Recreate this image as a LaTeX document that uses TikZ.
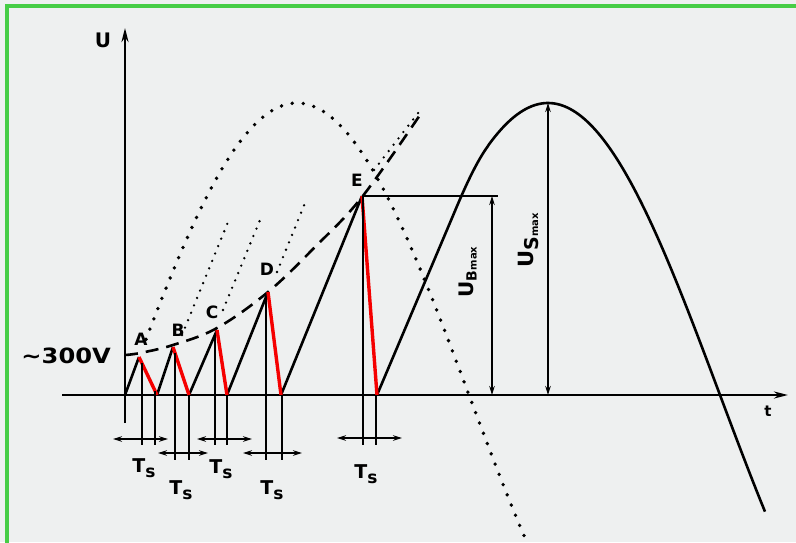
\documentclass[tikz,border=0pt]{standalone}
\usepackage{fontspec}
\setmainfont{DejaVu Sans}
\usetikzlibrary{arrows.meta}
\definecolor{bgc}{RGB}{238,240,240}
\definecolor{framec}{RGB}{70,205,70}
\definecolor{dropc}{RGB}{245,0,0}
\tikzset{
  axisline/.style={line width=2.4pt, black},
  curve/.style={line width=2.6pt, black, line join=round},
  dropline/.style={line width=3.4pt, dropc},
  bigdots/.style={line width=3.8pt, line cap=round, dash pattern=on 0pt off 11pt},
  smalldots/.style={line width=2.6pt, line cap=round, dash pattern=on 0pt off 8pt},
  dashcurve/.style={line width=2.6pt, dash pattern=on 13pt off 8pt},
  dimline/.style={line width=1.6pt, black},
  dimarrow/.style={dimline, {Stealth[length=9pt,width=5.5pt]}-{Stealth[length=9pt,width=5.5pt]}},
  lbl/.style={inner sep=0pt, font=\bfseries\fontsize{17}{17}\selectfont},
  tslbl/.style={inner sep=0pt, font=\bfseries}
}
\newcommand{\tslabel}{{\fontsize{19}{19}\selectfont T}\raisebox{-5pt}{\fontsize{17}{17}\selectfont s}}
\begin{document}
\begin{tikzpicture}[x=1pt,y=-1pt]
\useasboundingbox (0,0) rectangle (796,542);
\fill[bgc] (0,0) rectangle (796,542);
\draw[framec, line width=3.5pt] (7,545) -- (7,6) -- (800,6);

% axes
\coordinate (ybot) at (125,423);
\coordinate (ytop) at (125,28);
\coordinate (xl) at (62,395);
\coordinate (xr) at (788,395);
\draw[axisline, -{Stealth[length=14pt,width=7pt]}] (ybot) -- (ytop);
\draw[axisline, -{Stealth[length=14pt,width=7pt]}] (xl) -- (xr);
\node[lbl, font=\bfseries\fontsize{20}{20}\selectfont] (lU) at (103,40) {U};
\node[lbl, font=\bfseries\fontsize{15}{15}\selectfont] (lt) at (768,411) {t};
\node[lbl, font=\bfseries\fontsize{21}{21}\selectfont, anchor=east] (l300) at (111,356) {\scalebox{1.15}[1]{\char"223C 300V}};

% big dotted sine (continuation of first ramp)
\draw[bigdots] plot[domain=146:527, samples=160] (\x, {395-292*sin((\x-125)/344*180)});

% small dotted continuations of the ramps
\coordinate (d2a) at (182,335); \coordinate (d2b) at (228,222);
\coordinate (d3a) at (223,310); \coordinate (d3b) at (260,220);
\coordinate (d4a) at (277,272); \coordinate (d4b) at (305,203);
\coordinate (d5a) at (374,170); \coordinate (d5b) at (422,108);
\draw[smalldots] (d2a) -- (d2b);
\draw[smalldots] (d3a) -- (d3b);
\draw[smalldots] (d4a) -- (d4b);
\draw[smalldots] (d5a) -- (d5b);

% dashed envelope
\draw[dashcurve] plot[smooth, tension=0.6] coordinates {(125,355) (140,353) (173,345) (217,328) (268,292) (315,247) (362,197) (422,112)};

% sawtooth
\coordinate (O) at (125,395);
\coordinate (A) at (139,357);
\coordinate (A0) at (157,395);
\coordinate (B) at (173,347);
\coordinate (B0) at (189,395);
\coordinate (C) at (217,330);
\coordinate (C0) at (227,395);
\coordinate (D) at (268,292);
\coordinate (D0) at (281,395);
\coordinate (E) at (362,196);
\coordinate (E0) at (377,395);
\coordinate (R1) at (452,218);
\coordinate (R2) at (488,146);
\draw[curve] (O) -- (A);
\draw[curve] (A0) -- (B);
\draw[curve] (B0) -- (C);
\draw[curve] (C0) -- (D);
\draw[curve] (D0) -- (E);
\draw[curve] (E0) -- (R1) .. controls (460,199) and (474,165) .. (R2) -- plot[domain=488:765, samples=120] (\x, {395-292*sin((\x-376)/344*180)});
\draw[dropline] (A) -- (A0);
\draw[dropline] (B) -- (B0);
\draw[dropline] (C) -- (C0);
\draw[dropline] (D) -- (D0);
\draw[dropline] (E) -- (E0);

\node[lbl] (lA) at (141,339) {A};
\node[lbl] (lB) at (178,330) {B};
\node[lbl] (lC) at (212,312) {C};
\node[lbl] (lD) at (267,269) {D};
\node[lbl] (lE) at (357,180) {E};

% Ts markers
\draw[dimline] (142,363) -- (142,445);
\draw[dimline] (155,391) -- (155,445);
\draw[dimarrow] (113,439) -- (168,439);
\node[tslbl] (ts1) at (144,468) {\tslabel};

\draw[dimline] (175,353) -- (175,460);
\draw[dimline] (189,395) -- (189,460);
\draw[dimarrow] (158,453) -- (208,453);
\node[tslbl] (ts2) at (181,490) {\tslabel};

\draw[dimline] (215,335) -- (215,445);
\draw[dimline] (227,395) -- (227,445);
\draw[dimarrow] (197,439) -- (252,439);
\node[tslbl] (ts3) at (221,469) {\tslabel};

\draw[dimline] (266,297) -- (266,460);
\draw[dimline] (282,395) -- (282,460);
\draw[dimarrow] (243,453) -- (302,453);
\node[tslbl] (ts4) at (272,490) {\tslabel};

\draw[dimline] (363,196) -- (363,445);
\draw[dimline] (376,395) -- (376,445);
\draw[dimarrow] (337,438) -- (402,438);
\node[tslbl] (ts5) at (366,474) {\tslabel};

% UB max
\coordinate (ubt) at (492,196);
\coordinate (ubb) at (492,395);
\coordinate (ube) at (498,196);
\draw[dimline, line width=1.8pt] (E) -- (ube);
\draw[dimarrow] (ubt) -- (ubb);
\node[rotate=90, inner sep=0pt, font=\bfseries] (lUB) at (468,272) {{\fontsize{20}{20}\selectfont U}\raisebox{-3pt}{\fontsize{14}{14}\selectfont B}\raisebox{-3pt}{\fontsize{10}{10}\selectfont max}};

% US max
\coordinate (ust) at (548,103);
\coordinate (usb) at (548,395);
\draw[dimarrow] (ust) -- (usb);
\node[rotate=90, inner sep=0pt, font=\bfseries] (lUS) at (528,240) {{\fontsize{21}{21}\selectfont U}\raisebox{-5pt}{\fontsize{19}{19}\selectfont S}\raisebox{-5pt}{\fontsize{10}{10}\selectfont max}};
\end{tikzpicture}
\end{document}
